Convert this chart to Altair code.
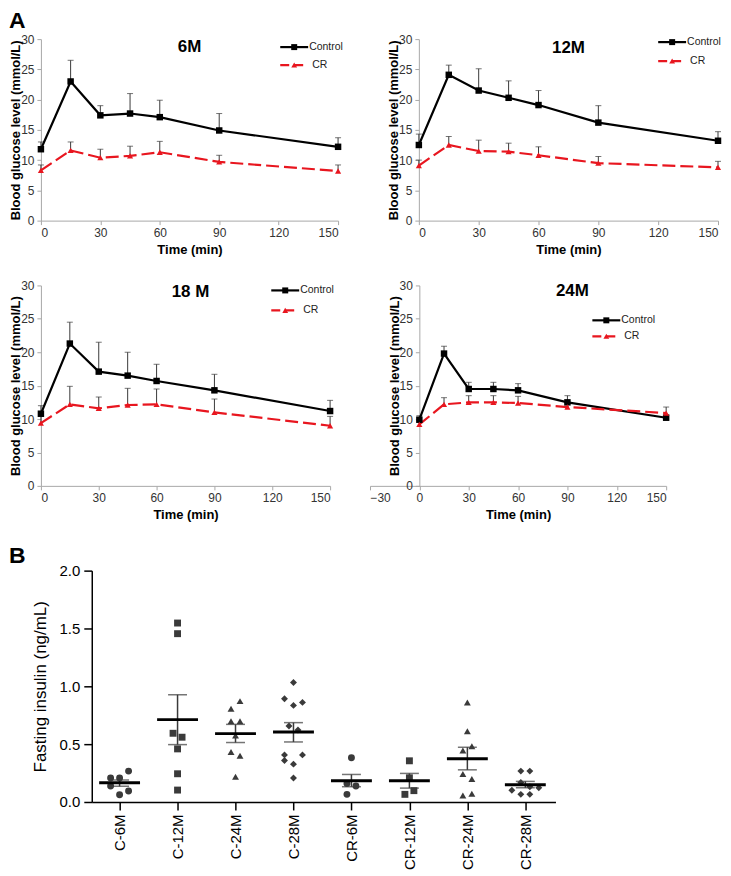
import altair as alt
import pandas as pd

# ---------------- data ----------------
times = [0, 15, 30, 45, 60, 90, 150]

m6_control = [11.8, 23.0, 17.4, 17.7, 17.1, 14.9, 12.2]
m6_control_sd = [1.2, 3.5, 1.6, 3.3, 2.8, 2.8, 1.5]
m6_cr = [8.3, 11.6, 10.4, 10.7, 11.3, 9.7, 8.2]
m6_cr_sd = [0.9, 1.4, 1.4, 1.6, 1.8, 1.1, 1.0]

m12_control = [12.5, 24.1, 21.5, 20.3, 19.1, 16.2, 13.2]
m12_control_sd = [1.8, 1.6, 3.6, 2.8, 2.4, 2.8, 1.5]
m12_cr = [9.1, 12.5, 11.5, 11.4, 10.8, 9.5, 8.8]
m12_cr_sd = [0.9, 1.4, 1.8, 1.4, 1.4, 1.1, 1.0]

m18_control = [10.8, 21.3, 17.1, 16.5, 15.7, 14.3, 11.2]
m18_control_sd = [1.2, 3.2, 4.4, 3.5, 2.5, 2.4, 1.6]
m18_cr = [9.4, 12.2, 11.6, 12.1, 12.2, 11.0, 9.0]
m18_cr_sd = [1.0, 2.7, 1.7, 2.5, 2.3, 2.0, 1.4]

m24_control = [9.9, 19.8, 14.5, 14.5, 14.3, 12.5, 10.2]
m24_control_sd = [0.6, 1.1, 1.0, 1.0, 1.0, 1.0, 0.4]
m24_cr = [9.2, 12.2, 12.5, 12.5, 12.4, 11.8, 10.9]
m24_cr_sd = [0.6, 1.0, 1.0, 1.0, 1.0, 0.5, 0.9]

categories = ["C-6M", "C-12M", "C-24M", "C-28M", "CR-6M", "CR-12M", "CR-24M", "CR-28M"]
shapes = ["circle", "square", "triangle-up", "diamond"] * 2
insulin_values = [
    [0.267, 0.207, 0.207, 0.138, 0.095, 0.063],
    [1.547, 1.455, 0.594, 0.560, 0.459, 0.244, 0.103],
    [0.872, 0.806, 0.697, 0.697, 0.574, 0.433, 0.399, 0.218],
    [1.033, 0.892, 0.861, 0.835, 0.657, 0.623, 0.407, 0.407, 0.359, 0.327, 0.207],
    [0.382, 0.160, 0.138, 0.066],
    [0.356, 0.209, 0.098, 0.066],
    [0.861, 0.611, 0.482, 0.445, 0.241, 0.198, 0.072, 0.057],
    [0.267, 0.267, 0.169, 0.132, 0.123, 0.101, 0.066, 0.066],
]
insulin_jitter = [
    [1, -1, 0, -1, 1, 0],
    [0, 0, -0.5, 0.5, 0, 0, 0],
    [0.5, -0.5, -0.5, 0.5, 0, -0.5, 0.5, 0],
    [0, -1, 1, 0, -0.5, 0.5, -1, 1, -1, 0, 0],
    [0, -0.5, 0.5, -0.5],
    [0, 0, 0.5, -0.5],
    [0, 0, 0.5, -0.5, -0.5, 0.5, 0.5, -0.5],
    [-0.5, 0.5, -0.5, 0.5, 1.5, -1.5, -0.5, 0.5],
]
insulin_mean = [0.166, 0.712, 0.591, 0.605, 0.184, 0.184, 0.373, 0.149]
insulin_sem_hi = [0.190, 0.927, 0.671, 0.686, 0.238, 0.247, 0.473, 0.178]
insulin_sem_lo = [0.135, 0.496, 0.514, 0.519, 0.132, 0.120, 0.278, 0.123]

glucose_ticks = [0, 5, 10, 15, 20, 25, 30]
insulin_ticks = [0, 0.5, 1.0, 1.5, 2.0]

# ---------------- style ----------------
FONT = "Liberation Sans"
RED = "#e8161f"
AXGRAY = "#a8a8a8"
LBL = "#333333"


def one():
    return alt.Chart(alt.Data(values=[{"k": 1}]))


def glucose_panel(ctrl, ctrl_sd, cr, cr_sd, title, w, h, xdom, xticks,
                  title_xy, leg_xy, ctrl_err_color, yoff=0, letter=False):
    df = pd.DataFrame({
        "time": times * 2,
        "group": ["Control"] * len(times) + ["CR"] * len(times),
        "mean": ctrl + cr,
        "top": [m + s for m, s in zip(ctrl, ctrl_sd)] + [m + s for m, s in zip(cr, cr_sd)],
    })
    xaxis = alt.Axis(values=xticks, grid=False, title="Time (min)", labelOverlap=False,
                     domainColor=AXGRAY, tickColor=AXGRAY, tickSize=4,
                     labelColor=LBL, labelFont=FONT, labelFontSize=12,
                     labelPadding=3, titleFont=FONT, titleFontSize=13,
                     titleFontWeight="bold", titleColor="black", titlePadding=5)
    yaxis = alt.Axis(values=glucose_ticks, grid=False, labelOverlap=False,
                     title="Blood glucose level (mmol/L)", offset=yoff,
                     domainColor=AXGRAY, tickColor=AXGRAY, tickSize=4,
                     labelColor=LBL, labelFont=FONT, labelFontSize=12,
                     labelPadding=3, titleFont=FONT, titleFontSize=13,
                     titleFontWeight="bold", titleColor="black", titlePadding=-2)
    xs = alt.Scale(domain=xdom, nice=False, zero=False)
    ys = alt.Scale(domain=[0, 30], nice=False)
    X = alt.X("time:Q", scale=xs, axis=xaxis)
    Y = alt.Y("mean:Q", scale=ys, axis=yaxis)
    YT = alt.Y("top:Q", scale=ys, axis=yaxis)
    errc = alt.Color("group:N", scale=alt.Scale(domain=["Control", "CR"],
                                                range=[ctrl_err_color, "#3a3a3a"]), legend=None)
    base = alt.Chart(df)
    err = base.mark_rule(strokeWidth=1).encode(x=X, y=Y, y2="top:Q", color=errc)
    cap = base.mark_tick(orient="horizontal", size=6, thickness=1).encode(x=X, y=YT, color=errc)
    c_line = base.transform_filter(alt.datum.group == "Control").mark_line(
        color="black", strokeWidth=2.2).encode(x=X, y=Y)
    r_line = base.transform_filter(alt.datum.group == "CR").mark_line(
        color=RED, strokeWidth=2.2, strokeDash=[13, 5]).encode(x=X, y=Y)
    c_pt = base.transform_filter(alt.datum.group == "Control").mark_point(
        shape="square", filled=True, color="black", size=42, opacity=1).encode(x=X, y=Y)
    r_pt = base.transform_filter(alt.datum.group == "CR").mark_point(
        shape="triangle-up", filled=True, color=RED, size=38, opacity=1).encode(x=X, y=Y)

    lx, ly1, ly2 = leg_xy
    leg = [
        one().mark_rule(color="black", strokeWidth=2.2).encode(
            x=alt.value(lx), x2=alt.value(lx + 28), y=alt.value(ly1)),
        one().mark_point(shape="square", filled=True, color="black", size=36, opacity=1).encode(
            x=alt.value(lx + 14), y=alt.value(ly1)),
        one().mark_text(align="left", baseline="middle", font=FONT, fontSize=10.5, color="#222").encode(
            x=alt.value(lx + 29), y=alt.value(ly1), text=alt.value("Control")),
        one().mark_rule(color=RED, strokeWidth=2.2, strokeDash=[9, 5]).encode(
            x=alt.value(lx), x2=alt.value(lx + 28), y=alt.value(ly2)),
        one().mark_point(shape="triangle-up", filled=True, color=RED, size=34, opacity=1).encode(
            x=alt.value(lx + 14), y=alt.value(ly2)),
        one().mark_text(align="left", baseline="middle", font=FONT, fontSize=10.5, color="#222").encode(
            x=alt.value(lx + 32), y=alt.value(ly2), text=alt.value("CR")),
    ]
    ttl = one().mark_text(font=FONT, fontSize=17, fontWeight="bold", color="black",
                          baseline="middle").encode(
        x=alt.value(title_xy[0]), y=alt.value(title_xy[1]), text=alt.value(title))
    layers = [err, cap, c_line, r_line, c_pt, r_pt, ttl] + leg
    if letter:
        layers.append(one().mark_text(font=FONT, fontSize=23, fontWeight="bold", color="black",
                                      align="left", baseline="top").encode(
            x=alt.value(-32), y=alt.value(-29), text=alt.value("A")))
    return alt.layer(*layers).properties(width=w, height=h)


W1, W2, H1 = 298, 300, 182
W3, W4, H2 = 290, 297, 201

p6 = glucose_panel(m6_control, m6_control_sd, m6_cr, m6_cr_sd, "6M", W1, H1,
                   [0, 150], [0, 30, 60, 90, 120, 150], (W1 / 2, 8), (W1 - 58, 8, 26),
                   "#3a3a3a", letter=True)
p12 = glucose_panel(m12_control, m12_control_sd, m12_cr, m12_cr_sd, "12M", W2, H1,
                    [0, 150], [0, 30, 60, 90, 120, 150], (W2 / 2, 9), (W2 - 60, 3, 22),
                    "#8fb0d6")
p18 = glucose_panel(m18_control, m18_control_sd, m18_cr, m18_cr_sd, "18 M", W3, H2,
                    [0, 150], [0, 30, 60, 90, 120, 150], (150, 7), (W3 - 59, 5, 25),
                    "#3a3a3a")
p24 = glucose_panel(m24_control, m24_control_sd, m24_cr, m24_cr_sd, "24M", W4, H2,
                    [-30, 150], [-30, 0, 30, 60, 90, 120, 150], (203, 6), (W4 - 74, 35, 51),
                    "#3a3a3a", yoff=-W4 * 30 / 180)

# ---------------- panel B ----------------
rows = []
for i, (cat, vals, jit) in enumerate(zip(categories, insulin_values, insulin_jitter)):
    for v, j in zip(vals, jit):
        rows.append({"cat": cat, "idx": i + 1, "pos": i + 1 + j * 0.155, "val": v,
                     "shape": shapes[i], "grp": "C" if i < 4 else "CR"})
pts = pd.DataFrame(rows)
summ = pd.DataFrame({"cat": categories, "pos": list(range(1, 9)), "mean": insulin_mean,
                     "hi": insulin_sem_hi, "lo": insulin_sem_lo,
                     "grp": ["C"] * 4 + ["CR"] * 4})

label_expr = "[" + ",".join("'%s'" % c for c in categories) + "][datum.value - 1]"
xbaxis = alt.Axis(values=list(range(1, 9)), labelExpr=label_expr, labelAngle=270,
                  grid=False, title=None, domainColor="black", tickColor="black",
                  domainWidth=1.5, tickWidth=1.5, tickSize=8, labelPadding=4,
                  labelOverlap=False,
                  labelFont=FONT, labelFontSize=15, labelColor="black")
ybaxis = alt.Axis(values=insulin_ticks, format=".1f", grid=False,
                  title="Fasting insulin (ng/mL)", domainColor="black", tickColor="black",
                  domainWidth=1.5, tickWidth=1.5, tickSize=8, labelPadding=4,
                  labelOverlap=False,
                  labelFont=FONT, labelFontSize=15, labelColor="black",
                  titleFont=FONT, titleFontSize=17, titleFontWeight="normal",
                  titleColor="black", titlePadding=10)
xbs = alt.Scale(domain=[0.52, 8.52], nice=False, zero=False)
ybs = alt.Scale(domain=[0, 2.0], nice=False)
XB = alt.X("pos:Q", scale=xbs, axis=xbaxis)
gcol = alt.Color("grp:N", scale=alt.Scale(domain=["C", "CR"], range=["black", RED]), legend=None)
shp = alt.Shape("shape:N", scale=alt.Scale(domain=["circle", "square", "triangle-up", "diamond"],
                                           range=["circle", "square", "triangle-up", "diamond"]),
                legend=None)

sb = alt.Chart(summ)
whisk = sb.mark_rule(strokeWidth=1.5).encode(
    x=XB, y=alt.Y("lo:Q", scale=ybs, axis=ybaxis), y2="hi:Q", color=gcol)
cap_hi = sb.mark_tick(orient="horizontal", size=19, thickness=1.5).encode(
    x=XB, y=alt.Y("hi:Q", scale=ybs, axis=ybaxis), color=gcol)
cap_lo = sb.mark_tick(orient="horizontal", size=19, thickness=1.5).encode(
    x=XB, y=alt.Y("lo:Q", scale=ybs, axis=ybaxis), color=gcol)
mean_line = sb.mark_tick(orient="horizontal", size=41, thickness=3, color="black", opacity=1).encode(
    x=XB, y=alt.Y("mean:Q", scale=ybs, axis=ybaxis))
points = alt.Chart(pts).mark_point(filled=True, size=48, opacity=1).encode(
    x=XB, y=alt.Y("val:Q", scale=ybs, axis=ybaxis), color=gcol, shape=shp)
letterB = one().mark_text(font=FONT, fontSize=23, fontWeight="bold", color="black",
                          align="left", baseline="top").encode(
    x=alt.value(-83), y=alt.value(-26), text=alt.value("B"))

panelB = alt.layer(points, whisk, cap_hi, cap_lo, mean_line, letterB).properties(width=465, height=232)
spacer = one().mark_point(opacity=0).encode(x=alt.value(0), y=alt.value(0)).properties(width=1, height=1)

row1 = alt.hconcat(p6, p12, spacing=81, bounds="flush")
row2 = alt.hconcat(p18, p24, spacing=40, bounds="flush")
row3 = alt.hconcat(spacer, panelB, spacing=50, bounds="flush")

chart = alt.vconcat(row1, row2, row3, spacing=21).properties(
    padding=0
).configure_view(stroke="transparent")

chart.save("out.html", embed_options={"renderer": "svg", "actions": False})
